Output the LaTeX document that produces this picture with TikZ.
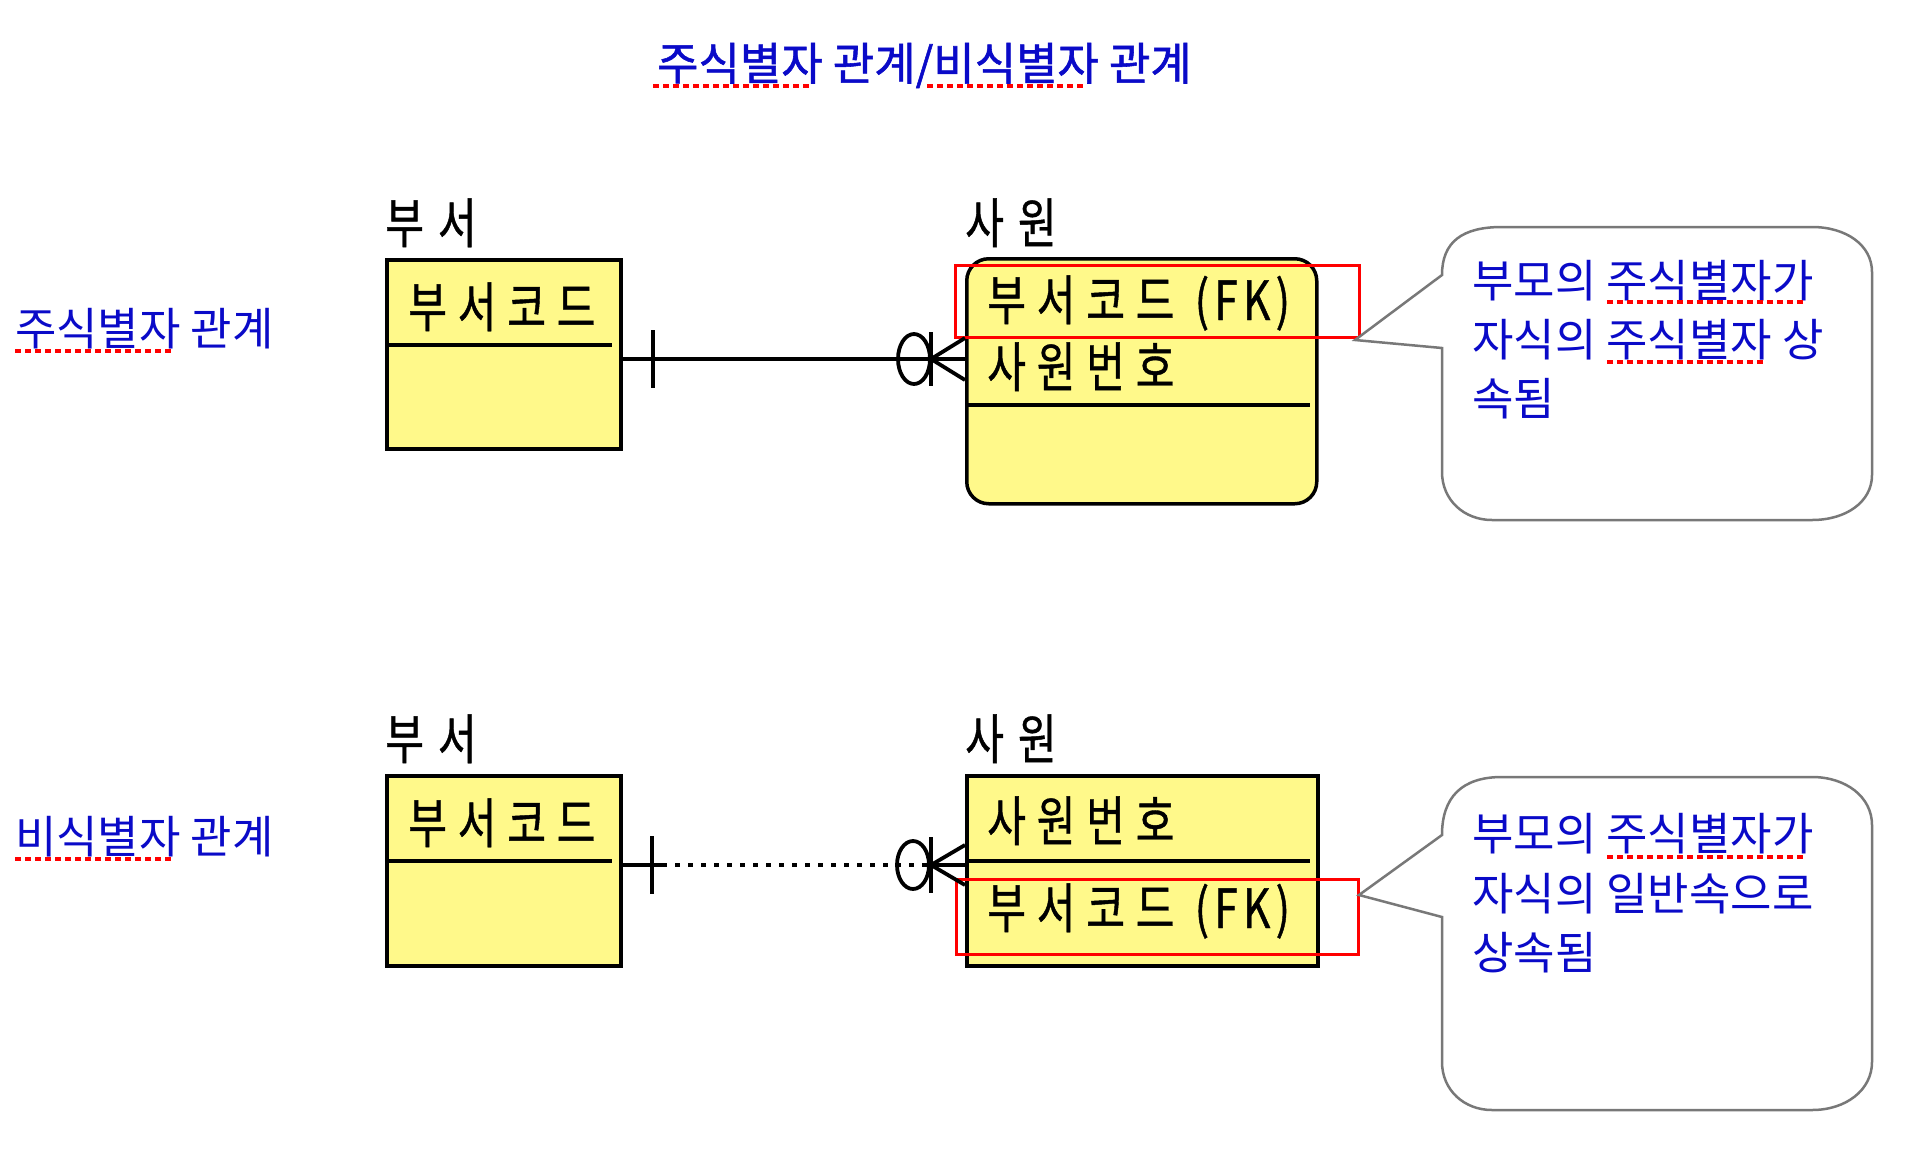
\documentclass[tikz,border=0pt]{standalone}
\usepackage{fontspec}
\newfontfamily\bluefont{Noto Sans CJK KR}
\newfontfamily\titlefont[FakeBold=1.2]{Noto Sans CJK KR}
\newfontfamily\entfont[FakeStretch=0.78,LetterSpace=20,FakeBold=0.8]{Noto Sans CJK KR}
\definecolor{myblue}{RGB}{10,10,200}
\definecolor{entyellow}{RGB}{255,249,138}
\definecolor{calloutgray}{RGB}{120,120,120}
\begin{document}
\begin{tikzpicture}[x=1pt,y=-1pt,
  bluetxt/.style={font=\bluefont\fontsize{45}{54}\selectfont, text=myblue, inner sep=0pt, anchor=base west},
  enttxt/.style={font=\entfont\fontsize{54}{60}\selectfont, text=black, inner sep=0pt, anchor=base west},
  entbox/.style={draw=black, line width=3.5pt, fill=entyellow, inner sep=0pt, anchor=north west},
  fkbox/.style={draw=red, line width=3pt, inner sep=0pt, anchor=north west},
  spell/.style={draw=red, line width=3.5pt, dash pattern=on 6pt off 4pt},
  rel/.style={line width=3.8pt},
  sep/.style={line width=3.5pt},
  callout/.style={draw=calloutgray, line width=2.5pt, fill=white}]
\useasboundingbox[fill=white] (0,0) rectangle (1920,1152);

% title and side labels
\node[bluetxt, font=\titlefont\fontsize{45}{54}\selectfont] (title) at (657,80) {주식별자 관계/비식별자 관계};
\draw[spell] (653,86) -- (812,86);
\draw[spell] (927,86) -- (1086,86);
\node[bluetxt] (lab1) at (15,345) {주식별자 관계};
\draw[spell] (15,351) -- (172,351);
\node[bluetxt] (lab2) at (15,853) {비식별자 관계};
\draw[spell] (15,859) -- (172,859);

% ===== top row =====
\node[entbox, minimum width=234pt, minimum height=189pt] (B1) at (385,258) {};
\draw[sep] (385,345) -- (612,345);
\node[enttxt] (B1n) at (385,243) {부\kern14pt 서};
\node[enttxt] (B1t) at (408,327) {부서코드};

\node[entbox, rounded corners=22pt, minimum width=350pt, minimum height=245pt] (E1) at (965,257) {};
\draw[sep] (965,405) -- (1310,405);
\node[enttxt] (E1n) at (965,243) {사\kern14pt 원};
\node[enttxt] (E1a) at (987,320) {부서코드 {\addfontfeature{LetterSpace=10}(FK)}};
\node[enttxt] (E1b) at (987,387) {사원번호};
\node[fkbox, minimum width=404pt, minimum height=72pt] (F1) at (954,264) {};

\coordinate (bar1) at (931,359);
\draw[rel] (B1.east |- bar1) -- (E1.west |- bar1);
\draw[rel] (653,330) -- (653,388);
\draw[rel] (914,359) ellipse [x radius=16, y radius=25];
\draw[rel] (931,332) -- (931,386);
\draw[rel] (E1.west |- 0,338) -- (bar1) -- (E1.west |- 0,380);

% callout 1
\coordinate (tip1) at (1355,340);
\draw[callout] (1442,275) .. controls (1442,242) and (1462,227) .. (1502,227)
  -- (1812,227) .. controls (1846,227) and (1872,245) .. (1872,272)
  -- (1872,475) .. controls (1872,502) and (1846,520) .. (1812,520)
  -- (1492,520) .. controls (1464,520) and (1442,500) .. (1442,472)
  -- (1442,348) -- (tip1) -- cycle;
\node[bluetxt] (t1a) at (1472,297) {부모의 주식별자가};
\node[bluetxt] (t1b) at (1472,356) {자식의 주식별자 상};
\node[bluetxt] (t1c) at (1472,415) {속됨};
\draw[spell] (1607,302) -- (1805,302);
\draw[spell] (1607,362) -- (1763,362);

% ===== bottom row =====
\node[entbox, minimum width=234pt, minimum height=190pt] (B2) at (385,774) {};
\draw[sep] (385,861) -- (612,861);
\node[enttxt] (B2n) at (385,759) {부\kern14pt 서};
\node[enttxt] (B2t) at (408,843) {부서코드};

\node[entbox, minimum width=351pt, minimum height=190pt] (E2) at (965,774) {};
\draw[sep] (965,861) -- (1310,861);
\node[enttxt] (E2n) at (965,759) {사\kern14pt 원};
\node[enttxt] (E2a) at (987,841) {사원번호};
\node[enttxt] (E2b) at (987,928) {부서코드 {\addfontfeature{LetterSpace=10}(FK)}};
\node[fkbox, minimum width=402pt, minimum height=75pt] (F2) at (955,878) {};

\coordinate (bar2) at (931,865);
\coordinate (dot2) at (662,865);
\draw[rel] (B2.east |- bar2) -- (dot2);
\draw[rel, dash pattern=on 5pt off 8pt] (dot2) -- (bar2);
\draw[rel] (652,836) -- (652,894);
\draw[rel] (913,865) ellipse [x radius=16, y radius=24];
\draw[rel] (931,837) -- (931,893);
\draw[rel] (bar2) -- (E2.west |- bar2);
\draw[rel] (E2.west |- 0,845) -- (bar2) -- (E2.west |- 0,885);

% callout 2
\coordinate (tip2) at (1359,895);
\draw[callout] (1442,835) .. controls (1442,797) and (1462,777) .. (1502,777)
  -- (1812,777) .. controls (1846,777) and (1872,797) .. (1872,825)
  -- (1872,1062) .. controls (1872,1090) and (1846,1110) .. (1812,1110)
  -- (1492,1110) .. controls (1464,1110) and (1442,1090) .. (1442,1062)
  -- (1442,917) -- (tip2) -- cycle;
\node[bluetxt] (t2a) at (1472,850) {부모의 주식별자가};
\node[bluetxt] (t2b) at (1472,910) {자식의 일반속으로};
\node[bluetxt] (t2c) at (1472,969) {상속됨};
\draw[spell] (1607,857) -- (1805,857);
\end{tikzpicture}
\end{document}
